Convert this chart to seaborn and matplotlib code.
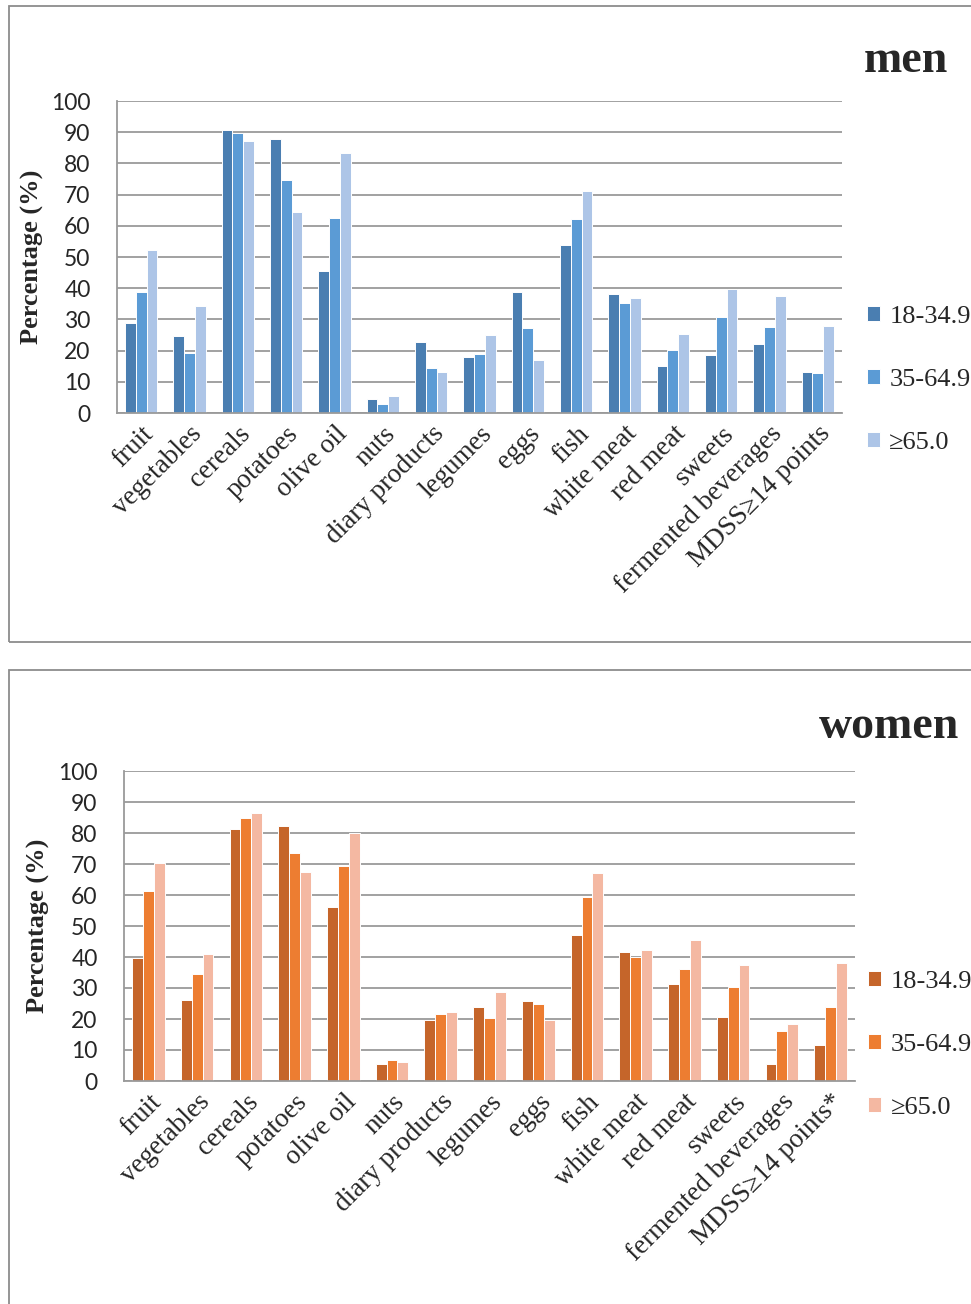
import numpy as np
import pandas as pd
import seaborn as sns
import matplotlib.pyplot as plt
from matplotlib.patches import Rectangle

# food groups on the x axis
foods_men = ['fruit', 'vegetables', 'cereals', 'potatoes', 'olive oil', 'nuts',
             'diary products', 'legumes', 'eggs', 'fish', 'white meat', 'red meat',
             'sweets', 'fermented beverages', 'MDSS\u226514 points']
foods_women = foods_men[:-1] + ['MDSS\u226514 points*']
ages = ['18-34.9', '35-64.9', '\u226565.0']

# men, percentage by age group
men_18 = [28.9, 24.7, 90.6, 87.9, 45.6, 4.6, 22.8, 18.1, 38.9, 53.8, 38.3, 15.2, 18.7, 22.0, 13.3]
men_35 = [38.9, 19.3, 89.9, 74.7, 62.6, 2.8, 14.4, 18.8, 27.4, 62.2, 35.2, 20.3, 30.9, 27.7, 12.9]
men_65 = [52.3, 34.4, 87.2, 64.5, 83.2, 5.6, 13.0, 25.0, 17.1, 71.2, 36.7, 25.3, 39.8, 37.5, 28.0]

# women, percentage by age group
women_18 = [39.8, 26.0, 81.2, 82.1, 56.1, 5.4, 19.8, 23.8, 25.7, 47.0, 41.7, 31.4, 20.6, 5.4, 11.7]
women_35 = [61.2, 34.4, 84.9, 73.5, 69.3, 6.9, 21.5, 20.3, 24.9, 59.5, 40.0, 36.1, 30.2, 16.1, 23.8]
women_65 = [70.2, 40.9, 86.4, 67.4, 79.9, 6.0, 22.1, 28.7, 19.8, 67.2, 42.2, 45.4, 37.5, 18.3, 38.0]

blues = ['#4a7eb1', '#5b9bd5', '#adc5e7']
oranges = ['#c5652a', '#ed7d31', '#f4b8a2']

sns.set_style('white')
plt.rcParams['font.family'] = ['Liberation Serif', 'DejaVu Serif']


def make_df(foods, a, b, c):
    rows = []
    for vals, age in zip([a, b, c], ages):
        for f, v in zip(foods, vals):
            rows.append({'food': f, 'age': age, 'pct': v})
    return pd.DataFrame(rows)


fig = plt.figure(figsize=(9.71, 13.04), dpi=100)
W, H = 971, 1304

# panel frames
fig.patches.append(Rectangle((9 / W, 1 - 642 / H), 1.0, 636 / H, fill=False,
                             edgecolor='#8c8c8c', lw=1.3, transform=fig.transFigure))
fig.patches.append(Rectangle((9 / W, -0.01), 1.0, (H - 670) / H + 0.01, fill=False,
                             edgecolor='#8c8c8c', lw=1.3, transform=fig.transFigure))


def draw(rect, df, colors, title, title_xy, leg_xy, ylab_pad):
    ax = fig.add_axes(rect)
    sns.barplot(data=df, x='food', y='pct', hue='age', palette=colors, ax=ax,
                width=0.67, saturation=1, edgecolor='white', linewidth=0.7)
    ax.set_ylim(0, 100)
    ax.set_yticks(np.arange(0, 101, 10))
    ax.yaxis.grid(True, color='#9a9a9a', lw=1.3)
    ax.set_axisbelow(True)
    for s in ['top', 'right']:
        ax.spines[s].set_visible(False)
    for s in ['left', 'bottom']:
        ax.spines[s].set_color('#9a9a9a')
        ax.spines[s].set_linewidth(1.3)
    ax.tick_params(axis='both', length=0)
    ax.tick_params(axis='y', pad=19)
    ax.tick_params(axis='x', pad=6)
    for lab in ax.get_yticklabels():
        lab.set_fontfamily('Lato')
        lab.set_fontsize(16.5)
    plt.setp(ax.get_xticklabels(), rotation=45, ha='right', va='top',
             rotation_mode='anchor', fontsize=19.5)
    ax.set_xlabel('')
    ax.set_ylabel('Percentage (%)', fontsize=19, fontweight='bold', labelpad=ylab_pad)
    sns.move_legend(ax, loc='center left', bbox_to_anchor=leg_xy, frameon=False,
                    title=None, fontsize=19, labelspacing=1.55, handlelength=0.5,
                    handleheight=0.5, handletextpad=0.35, borderpad=0)
    fig.text(title_xy[0], title_xy[1], title, ha='right', va='baseline',
             fontsize=33, fontweight='bold')
    return ax


draw([117 / W, 1 - 413 / H, 725 / W, 312 / H],
     make_df(foods_men, men_18, men_35, men_65), blues, 'men',
     (948 / W, 1 - 72 / H), (1.016, 0.106), 5)

draw([124 / W, 1 - 1081 / H, 731 / W, 310 / H],
     make_df(foods_women, women_18, women_35, women_65), oranges, 'women',
     (959 / W, 1 - 738 / H), (1.0, 0.117), 6)

fig.savefig('out.png', dpi=100)
